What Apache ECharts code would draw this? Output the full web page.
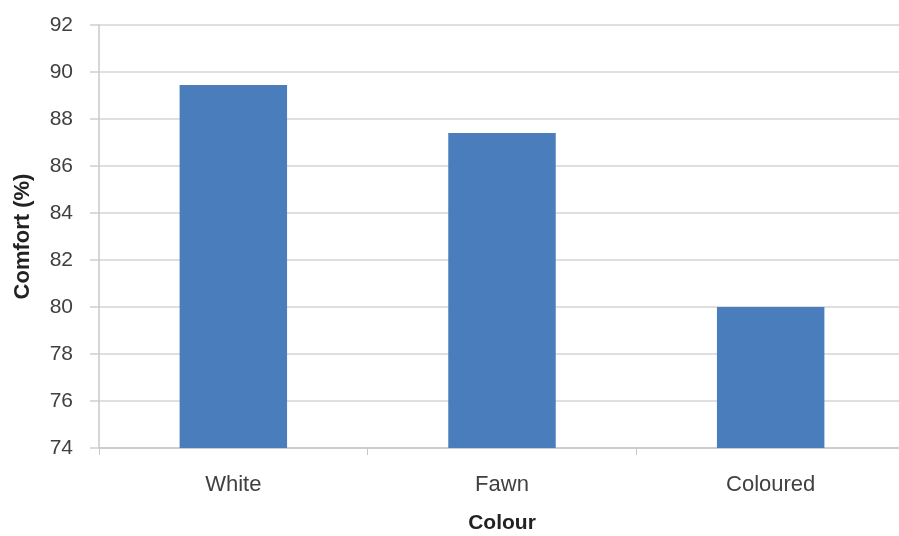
<!DOCTYPE html>
<html>
<head>
<meta charset="utf-8">
<script src="https://cdn.jsdelivr.net/npm/echarts@6/dist/echarts.min.js"></script>
<style>html,body{margin:0;padding:0;background:#fff}#c{width:899px;height:536px}</style>
</head>
<body>
<div id="c"></div>
<script>
const categories = ["White", "Fawn", "Coloured"];
const comfortValues = [89.45, 87.4, 80.0];
const yTicks = [74, 76, 78, 80, 82, 84, 86, 88, 90, 92];

const chart = echarts.init(document.getElementById('c'), null, {renderer: 'canvas'});
chart.setOption({
  animation: false,
  backgroundColor: '#ffffff',
  grid: {left: 99, width: 806, top: 25, bottom: 88, containLabel: false, outerBoundsMode: 'none'},
  xAxis: {
    type: 'category',
    data: categories,
    name: 'Colour',
    nameLocation: 'middle',
    nameGap: 65,
    nameTextStyle: {fontFamily: 'Liberation Sans', fontWeight: 'bold', fontSize: 21, color: '#222'},
    axisLine: {lineStyle: {color: '#c8c8c8', width: 1.5}},
    axisTick: {show: true, length: 7, alignWithLabel: false, lineStyle: {color: '#c8c8c8'}},
    axisLabel: {margin: 26, fontFamily: 'Liberation Sans', fontSize: 22, color: '#404040'}
  },
  yAxis: {
    type: 'value',
    min: yTicks[0],
    max: yTicks[yTicks.length - 1],
    interval: 2,
    name: 'Comfort (%)',
    nameLocation: 'middle',
    nameGap: 65,
    nameTextStyle: {fontFamily: 'Liberation Sans', fontWeight: 'bold', fontSize: 22, color: '#222'},
    axisLine: {show: true, lineStyle: {color: '#c8c8c8', width: 1.5}},
    axisTick: {show: true, length: 9, lineStyle: {color: '#d0d0d0', width: 1.5}},
    axisLabel: {margin: 26, fontFamily: 'Liberation Sans', fontSize: 21, color: '#404040'},
    splitLine: {lineStyle: {color: '#d4d4d4', width: 1.5}}
  },
  series: [{
    type: 'bar',
    data: comfortValues,
    barWidth: '40%',
    itemStyle: {color: '#4a7dbb'}
  }]
});
</script>
</body>
</html>
